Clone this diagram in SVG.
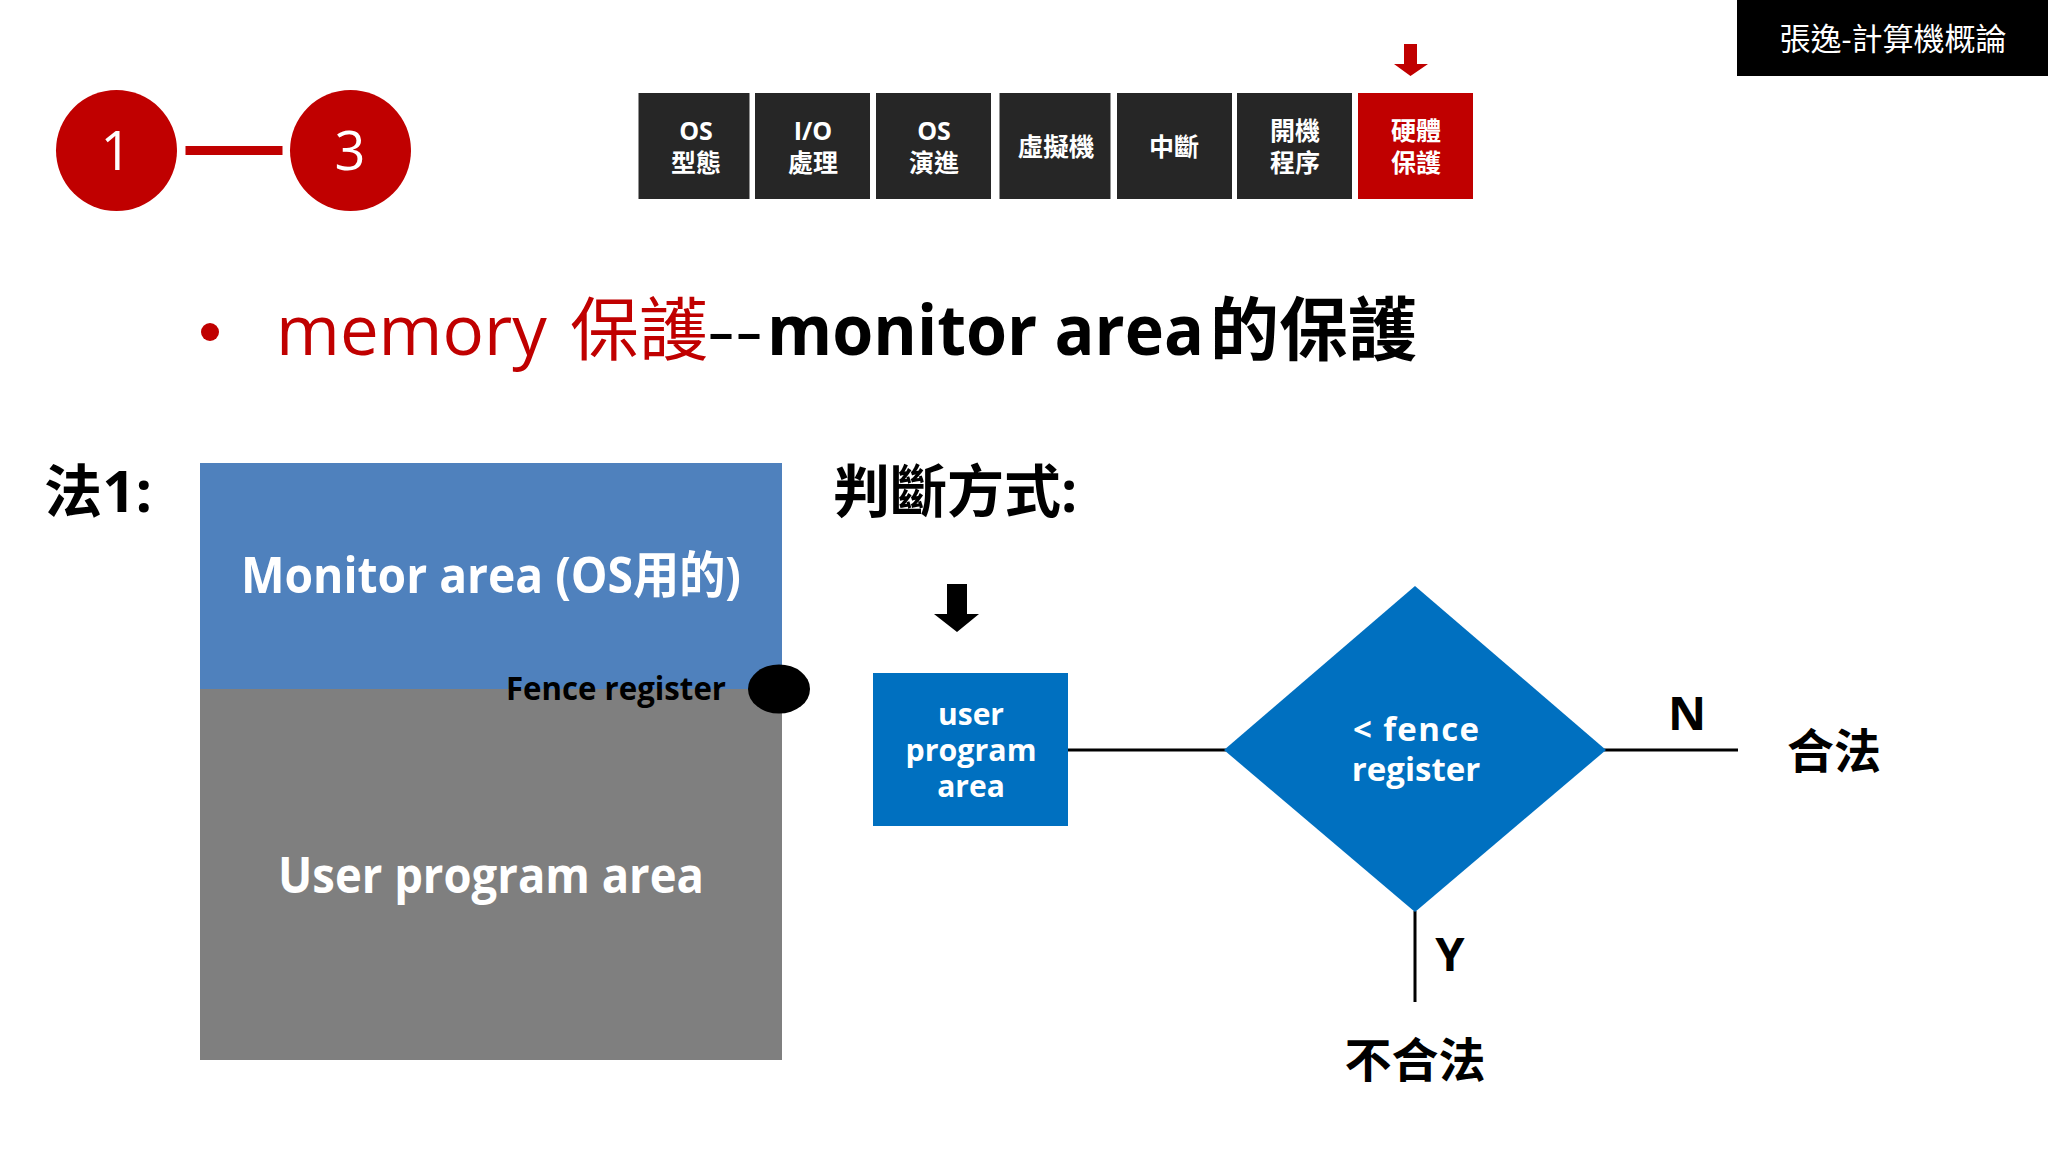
<svg xmlns="http://www.w3.org/2000/svg" width="2048" height="1152" viewBox="0 0 2048 1152">
<style>
text{font-family:"Open Sans","Noto Sans CJK TC",sans-serif;}
.c{text-anchor:middle}
.w{fill:#fff}
.tab{font-size:25px;font-weight:700;fill:#fff;text-anchor:middle}
.dk{fill:#262626}
.big{font-size:50px;font-weight:700;fill:#fff;text-anchor:middle}
.flow{font-size:30px;font-weight:700;fill:#fff;text-anchor:middle}
.lab{font-size:47px;font-weight:700;fill:#000}
.head{font-size:57px;font-weight:700;fill:#000}
.line{stroke:#000;stroke-width:3;fill:none}
</style>
<rect width="2048" height="1152" fill="#fff"/>
<g id="badge"><rect x="1737" y="0" width="311" height="76" fill="#000"/><text x="1893" y="50" class="c w" font-size="31">張逸-計算機概論</text></g>
<g id="step-1"><circle cx="116.500" cy="150.500" r="60.500" fill="#c00000"/><text x="116" y="170" class="c w" font-size="54">1</text></g>
<g id="step-3"><circle cx="350.500" cy="150.500" r="60.500" fill="#c00000"/><text x="350" y="170" class="c w" font-size="54">3</text></g>
<g id="step-connector"><rect x="185.500" y="146" width="97" height="9" fill="#c00000"/></g>
<g id="tabs">
<g id="tab-os-type"><rect class="dk" x="638.500" y="93" width="111" height="106"/><text class="tab" x="696" y="140">OS</text><text class="tab" x="696" y="172">型態</text></g>
<g id="tab-io"><rect class="dk" x="755" y="93" width="115" height="106"/><text class="tab" x="813" y="140">I/O</text><text class="tab" x="813" y="172">處理</text></g>
<g id="tab-os-evo"><rect class="dk" x="876" y="93" width="115" height="106"/><text class="tab" x="934" y="140">OS</text><text class="tab" x="934" y="172">演進</text></g>
<g id="tab-vm"><rect class="dk" x="999.500" y="93" width="111" height="106"/><text class="tab" x="1056" y="156" textLength="77" lengthAdjust="spacingAndGlyphs">虛擬機</text></g>
<g id="tab-int"><rect class="dk" x="1117" y="93" width="115" height="106"/><text class="tab" x="1174" y="156">中斷</text></g>
<g id="tab-boot"><rect class="dk" x="1237" y="93" width="115" height="106"/><text class="tab" x="1295" y="140">開機</text><text class="tab" x="1295" y="172">程序</text></g>
<g id="tab-hw"><rect fill="#c00000" x="1358" y="93" width="115" height="106"/><text class="tab" x="1416" y="140">硬體</text><text class="tab" x="1416" y="172">保護</text></g>
</g>
<path id="tab-arrow" d="M1404 44h13v20h11l-17.500 12L1394 64h10z" fill="#c00000"/>
<g id="title"><circle cx="210" cy="332" r="9" fill="#c00000"/>
<text y="355" font-size="69" fill="#c00000"><tspan x="276">memory</tspan><tspan x="570">保護</tspan><tspan x="707" fill="#000" textLength="56" lengthAdjust="spacingAndGlyphs">--</tspan><tspan x="767" fill="#000" font-weight="700" textLength="437" lengthAdjust="spacingAndGlyphs">monitor area</tspan><tspan x="1210" fill="#000" font-weight="700">的保護</tspan></text></g>
<text x="44" y="512" class="head" textLength="108" lengthAdjust="spacingAndGlyphs">法1:</text>
<text x="833" y="512" class="head">判斷方式:</text>
<g id="monitor-area"><rect x="200" y="463" width="582" height="226" fill="#4f81bd"/><text class="big" x="491" y="593" textLength="500" lengthAdjust="spacingAndGlyphs">Monitor area (OS用的)</text></g>
<g id="user-area"><rect x="200" y="689" width="582" height="371" fill="#7f7f7f"/><text class="big" x="491" y="893" textLength="426" lengthAdjust="spacingAndGlyphs">User program area</text></g>
<g id="fence"><text x="506" y="700" font-size="32" font-weight="700" fill="#000" textLength="220" lengthAdjust="spacingAndGlyphs">Fence register</text><ellipse cx="779" cy="689" rx="31" ry="24.500" fill="#000"/></g>
<g id="connectors">
<path class="line" d="M1068 750H1226M1604 750H1738M1415 911V1002"/>
<path d="M947 584h20v30h12l-22 18-23-18h13z" fill="#000"/>
</g>
<g id="user-box"><rect x="873" y="673" width="195" height="153" fill="#0070c0"/><text class="flow" x="971" y="725">user</text><text class="flow" x="971" y="761" textLength="131" lengthAdjust="spacingAndGlyphs">program</text><text class="flow" x="971" y="797">area</text></g>
<g id="decision"><path d="M1415 586L1606 750L1415 912L1224 750Z" fill="#0070c0"/><text class="flow" x="1416" y="741" style="font-size:33px" textLength="126" lengthAdjust="spacing">&lt; fence</text><text class="flow" x="1416" y="781" style="font-size:33px">register</text></g>
<text class="lab c" x="1687" y="730">N</text>
<text class="lab c" x="1450" y="971">Y</text>
<text class="lab c" x="1834" y="768">合法</text>
<text class="lab c" x="1415" y="1077">不合法</text>
</svg>
